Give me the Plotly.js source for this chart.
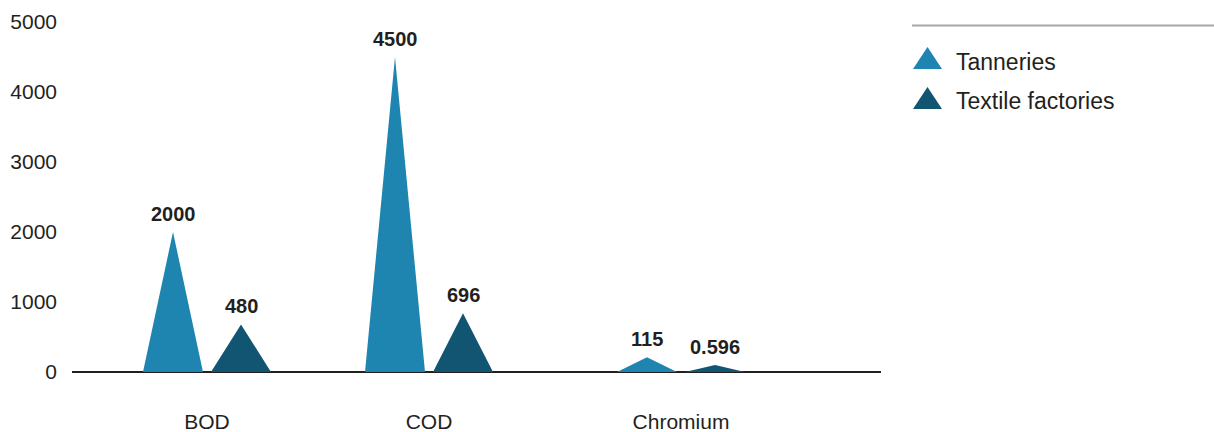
<!DOCTYPE html>
<html>
<head>
<meta charset="utf-8">
<script src="https://cdn.plot.ly/plotly-3.0.1.min.js"></script>
<style>html,body{margin:0;padding:0;background:#fff;}#chart{width:1214px;height:432px;}</style>
</head>
<body>
<div id="chart"></div>
<script>
// ---- data ----
const categories = ['BOD', 'COD', 'Chromium'];
const seriesNames = ['Tanneries', 'Textile factories'];
const tanneries = [2000, 4500, 210];        // drawn heights
const textile = [680, 840, 100];            // drawn heights
const tanneriesLabels = ['2000', '4500', '115'];
const textileLabels = ['480', '696', '0.596'];
const yTicks = [0, 1000, 2000, 3000, 4000, 5000];

// ---- layout helpers (axis units = px along the plot width) ----
const FONT = 'Liberation Sans, Arial, Helvetica, sans-serif';
const TXT = '#231f20';
const colors = ['#1e84b0', '#125573'];
const catPos = [135, 357, 609];
const offset = 34, half = 30;
const L = 72, W = 809, T = 22, H = 350;

function triTrace(vals, dir, name, color) {
  const x = [], y = [];
  vals.forEach((v, i) => {
    const c = catPos[i] + dir * offset;
    x.push(c - half, c, c + half, c - half, null);
    y.push(0, v, 0, 0, null);
  });
  return {
    type: 'scatter', mode: 'none', x, y, name,
    fill: 'toself', fillcolor: color, line: {width: 0, color: color},
    hoverinfo: 'skip', showlegend: false, connectgaps: false
  };
}

const data = [
  triTrace(tanneries, -1, seriesNames[0], colors[0]),
  triTrace(textile, 1, seriesNames[1], colors[1])
];

function valueLabels(vals, labels, dir) {
  return vals.map((v, i) => ({
    xref: 'x', yref: 'y', x: catPos[i] + dir * offset, y: v,
    xanchor: 'center', yanchor: 'bottom', yshift: 5, showarrow: false,
    text: labels[i], font: {family: FONT, size: 20, color: TXT, weight: 'bold'}
  }));
}

const px = x => (x - L) / W;
const py = y => (T + H - y) / H;
function triPath(x0, x1, yTop, yBot) {
  const xm = (x0 + x1) / 2;
  return `M ${px(x0)} ${py(yBot)} L ${px(xm)} ${py(yTop)} L ${px(x1)} ${py(yBot)} Z`;
}

const shapes = [
  {type: 'line', xref: 'paper', yref: 'paper', x0: px(912), x1: px(1214), y0: py(25.5), y1: py(25.5),
   line: {color: '#a7a7a7', width: 2}},
  {type: 'path', xref: 'paper', yref: 'paper', path: triPath(913, 942, 47, 69), fillcolor: colors[0], line: {width: 0}},
  {type: 'path', xref: 'paper', yref: 'paper', path: triPath(913, 942, 87, 109), fillcolor: colors[1], line: {width: 0}}
];

const legendText = seriesNames.map((n, i) => ({
  xref: 'paper', yref: 'paper', x: px(954), y: py(i === 0 ? 62 : 101),
  xanchor: 'left', yanchor: 'middle', showarrow: false, text: n,
  font: {family: FONT, size: 23, color: TXT}
}));

const annotations = [
  ...valueLabels(tanneries, tanneriesLabels, -1),
  ...valueLabels(textile, textileLabels, 1),
  ...legendText
];

const layout = {
  width: 1214, height: 432,
  margin: {l: L, r: 1214 - L - W, t: T, b: 432 - T - H, pad: 0},
  paper_bgcolor: '#fff', plot_bgcolor: '#fff',
  showlegend: false,
  font: {family: FONT, color: TXT},
  xaxis: {
    range: [0, W], tickvals: catPos, ticktext: categories,
    showgrid: false, zeroline: false, showline: false, ticks: '',
    ticklabelstandoff: 35,
    tickfont: {family: FONT, size: 21, color: TXT}, fixedrange: true
  },
  yaxis: {
    range: [0, 5000], tickvals: yTicks, ticktext: yTicks.map(String),
    showgrid: false, showline: false, ticks: '',
    zeroline: true, zerolinecolor: TXT, zerolinewidth: 2.5,
    layer: 'above traces', ticklabelstandoff: 14,
    tickfont: {family: FONT, size: 21, color: TXT}, fixedrange: true
  },
  shapes, annotations
};

Plotly.newPlot('chart', data, layout, {displayModeBar: false, staticPlot: true});
</script>
</body>
</html>
